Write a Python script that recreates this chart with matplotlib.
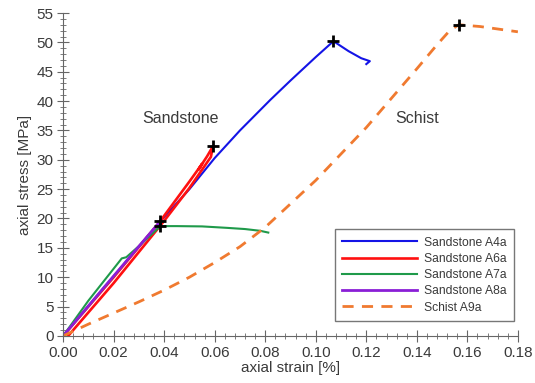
import matplotlib
matplotlib.use("Agg")
import matplotlib.pyplot as plt
from matplotlib.ticker import MultipleLocator

plt.rcParams['font.family'] = ['Liberation Sans', 'DejaVu Sans']

# Data (strain [%], stress [MPa])
a4_x = [0, 0.038, 0.05, 0.06, 0.07, 0.082, 0.09, 0.1, 0.107, 0.113, 0.118, 0.1214, 0.1200]
a4_y = [0, 19.3, 25.0, 30.3, 35.0, 40.2, 43.5, 47.5, 50.2, 48.5, 47.3, 46.8, 46.3]

a6_x = [0, 0.02, 0.038, 0.05, 0.055, 0.0535, 0.057, 0.0593, 0.0585, 0.05, 0.04, 0.02, 0.002]
a6_y = [0, 10.0, 19.3, 26.3, 29.3, 28.3, 30.6, 32.3, 30.5, 25.2, 19.6, 9.0, 0]

a7_x = [0, 0.01, 0.0232, 0.025, 0.03, 0.035, 0.0385, 0.045, 0.055, 0.065, 0.072, 0.078, 0.0812]
a7_y = [0, 6.0, 13.2, 13.4, 15.3, 17.3, 18.7, 18.7, 18.65, 18.4, 18.2, 17.9, 17.6]

a8_x = [0, 0.02, 0.038]
a8_y = [0, 10.2, 19.3]

a9_x = [0, 0.01, 0.02, 0.03, 0.04, 0.05, 0.06, 0.07, 0.08, 0.09, 0.1, 0.11, 0.12,
        0.13, 0.14, 0.148, 0.153, 0.1566, 0.165, 0.18]
a9_y = [0, 2.0, 3.9, 5.8, 7.8, 10.0, 12.5, 15.2, 18.5, 22.5, 26.5, 31.0, 35.5,
        40.5, 45.5, 49.6, 52.0, 53.0, 52.7, 51.8]

peak_x = [0.107, 0.0593, 0.0385, 0.0385, 0.1566]
peak_y = [50.2, 32.3, 19.5, 18.7, 53.0]

labels = ['Sandstone A4a', 'Sandstone A6a', 'Sandstone A7a', 'Sandstone A8a', 'Schist A9a']

fig = plt.figure(figsize=(5.35, 3.83), dpi=100)
ax = fig.add_axes([0.118, 0.123, 0.850, 0.843])

ax.plot(a4_x, a4_y, color='#1414e6', lw=1.5, label=labels[0])
ax.plot(a6_x, a6_y, color='#ff1010', lw=1.9, label=labels[1])
ax.plot(a7_x, a7_y, color='#1f9a4a', lw=1.5, label=labels[2])
ax.plot(a8_x, a8_y, color='#8a1ed6', lw=2.0, label=labels[3])
ax.plot(a9_x, a9_y, color='#f07a30', lw=2.0, ls=(0, (4, 3)), label=labels[4])
ax.plot(peak_x, peak_y, ls='none', marker='+', color='black', ms=9, mew=2)

ax.text(0.0463, 37, 'Sandstone', ha='center', va='center', fontsize=11.5, color='#3a3a3a')
ax.text(0.140, 37, 'Schist', ha='center', va='center', fontsize=11.5, color='#3a3a3a')

ax.set_xlim(0, 0.18)
ax.set_ylim(0, 55)
ax.xaxis.set_major_locator(MultipleLocator(0.02))
ax.xaxis.set_minor_locator(MultipleLocator(0.004))
ax.yaxis.set_major_locator(MultipleLocator(5))
ax.yaxis.set_minor_locator(MultipleLocator(1))
ax.xaxis.set_major_formatter(matplotlib.ticker.FormatStrFormatter('%.2f'))

for s in ['top', 'right']:
    ax.spines[s].set_visible(False)
for s in ['left', 'bottom']:
    ax.spines[s].set_color('#666666')
ax.tick_params(which='major', direction='inout', length=8, color='#666666',
               labelsize=11, labelcolor='#3a3a3a', pad=3)
ax.tick_params(which='minor', direction='inout', length=4, color='#666666')

ax.set_xlabel('axial strain [%]', fontsize=11, color='#3a3a3a', labelpad=1)
ax.set_ylabel('axial stress [MPa]', fontsize=11, color='#3a3a3a', labelpad=3)

leg = ax.legend(loc='lower right', bbox_to_anchor=(1.005, 0.028), fontsize=8.7,
                handlelength=6.2, labelspacing=0.35, borderpad=0.6, handletextpad=0.6,
                fancybox=False, edgecolor='#777777', framealpha=1)
leg.get_frame().set_linewidth(1.0)
for t in leg.get_texts():
    t.set_color('#3a3a3a')

fig.savefig('out.png', dpi=100)
